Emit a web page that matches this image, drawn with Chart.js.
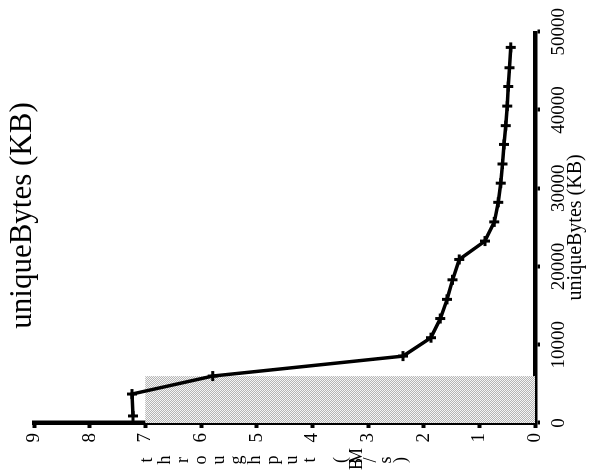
<!DOCTYPE html>
<html><head><meta charset="utf-8">
<script src="https://cdn.jsdelivr.net/npm/chart.js@4"></script>
<style>
html,body{margin:0;padding:0;background:#fff;overflow:hidden;width:589px;height:472px;}
#wrap{position:absolute;left:0;top:0;width:472px;height:589px;transform-origin:0 0;transform:translate(0,472px) rotate(-90deg);}
</style></head><body>
<div id="wrap"><canvas id="c" width="472" height="589"></canvas></div>
<script>
// Data (original, unrotated orientation: x = uniqueBytes, y = throughput)
const uniqueBytesKB = [900, 3700, 6000, 8550, 10900, 13350, 15800, 18300, 20900, 23250, 25700, 28200, 30650, 33100, 35600, 38000, 40500, 43000, 45400, 48000];
const throughputMBs = [7.22, 7.24, 5.79, 2.37, 1.87, 1.70, 1.58, 1.48, 1.36, 0.90, 0.73, 0.66, 0.615, 0.585, 0.556, 0.525, 0.50, 0.48, 0.46, 0.435];
const shadeBytesKB = [0, 6000];
const shadeThroughput = [7, 7];
const bytesTicks = [0, 10000, 20000, 30000, 40000, 50000];
const throughputTicks = [0, 1, 2, 3, 4, 5, 6, 7, 8, 9];
const chartTitle = 'uniqueBytes (KB)';
const xAxisTitle = 'uniqueBytes (KB)';
const yAxisTitle = 'throughput (MB/s)';

const FONT = '"Liberation Serif", "Times New Roman", serif';

// dithered grey pattern
const pc = document.createElement('canvas');
pc.width = 2; pc.height = 2;
const pctx = pc.getContext('2d');
pctx.fillStyle = '#f6f6f6'; pctx.fillRect(0,0,2,2);
pctx.fillStyle = '#b4b4b4'; pctx.fillRect(0,0,1,1); pctx.fillRect(1,1,1,1);
const ctx0 = document.getElementById('c').getContext('2d');
const shadePattern = ctx0.createPattern(pc, 'repeat');

// stacked (one glyph per row) y-axis title, like the reference
const stackedTitle = {
  id: 'stackedTitle',
  afterDraw(chart) {
    const ctx = chart.ctx;
    ctx.save();
    ctx.font = '18px ' + FONT;
    ctx.fillStyle = '#000';
    ctx.textAlign = 'center';
    ctx.textBaseline = 'middle';
    const word = yAxisTitle.split(' ');
    const first = Array.from(word[0]);
    let y = 147;
    first.forEach(ch => { ctx.fillText(ch, 12, y); y += 18.1; });
    // "(MB/s)"
    const rows = [['(', 12, 341], ['M', 16, 357], ['B', 8, 357], ['/', 12, 371], ['s', 12, 386], [')', 12, 401]];
    rows.forEach(([ch, x, yy]) => ctx.fillText(ch, x, yy));
    ctx.restore();
  },
  afterLayout(chart) {
    // title is centred a little to the right of the canvas centre in the reference
    chart.titleBlock.left += 36;
    chart.titleBlock.right += 36;
  }
};

const axisGrid = { display: true, drawOnChartArea: false, drawTicks: true, tickLength: 5, tickWidth: 4, tickColor: '#000', color: '#000' };
const axisBorder = { display: true, width: 4.5, color: '#000' };

new Chart(ctx0, {
  type: 'scatter',
  data: {
    datasets: [
      {
        data: uniqueBytesKB.map((b, i) => ({ x: b, y: throughputMBs[i] })),
        showLine: true,
        borderColor: '#000',
        borderWidth: 3.5,
        pointStyle: 'cross',
        pointRadius: 5,
        pointBorderWidth: 3,
        pointBorderColor: '#000',
        pointBackgroundColor: '#000',
        order: 1
      },
      {
        data: shadeBytesKB.map((b, i) => ({ x: b, y: shadeThroughput[i] })),
        showLine: true,
        borderWidth: 0,
        borderColor: 'rgba(0,0,0,0)',
        pointRadius: 0,
        fill: 'origin',
        backgroundColor: shadePattern,
        order: 2
      }
    ]
  },
  options: {
    responsive: false,
    animation: false,
    layout: { padding: { top: 0, right: 31, bottom: 0, left: 0 } },
    plugins: {
      legend: { display: false },
      tooltip: { enabled: false },
      title: {
        display: true, text: chartTitle, color: '#000',
        font: { family: FONT, size: 31, weight: 'normal', lineHeight: 1 },
        padding: { top: 7, bottom: -4 }
      }
    },
    scales: {
      x: {
        type: 'linear', position: 'bottom', min: 0, max: 50000,
        afterBuildTicks: s => { s.ticks = bytesTicks.map(v => ({ value: v })); },
        afterFit: s => { s.height = 54; },
        ticks: { color: '#000', font: { family: FONT, size: 19 }, padding: 8, maxRotation: 0, autoSkip: false, callback: v => String(v) },
        title: { display: true, text: xAxisTitle, color: '#000', font: { family: FONT, size: 20 }, padding: { top: 0, bottom: 1 } },
        grid: axisGrid, border: axisBorder
      },
      y: {
        type: 'linear', position: 'left', min: 0, max: 9,
        afterBuildTicks: s => { s.ticks = throughputTicks.map(v => ({ value: v })); },
        afterFit: s => { s.width = 49; },
        ticks: { color: '#000', font: { family: FONT, size: 19 }, padding: 5, autoSkip: false, callback: v => String(v) },
        grid: axisGrid, border: axisBorder
      }
    }
  },
  plugins: [stackedTitle]
});
</script>
</body></html>
